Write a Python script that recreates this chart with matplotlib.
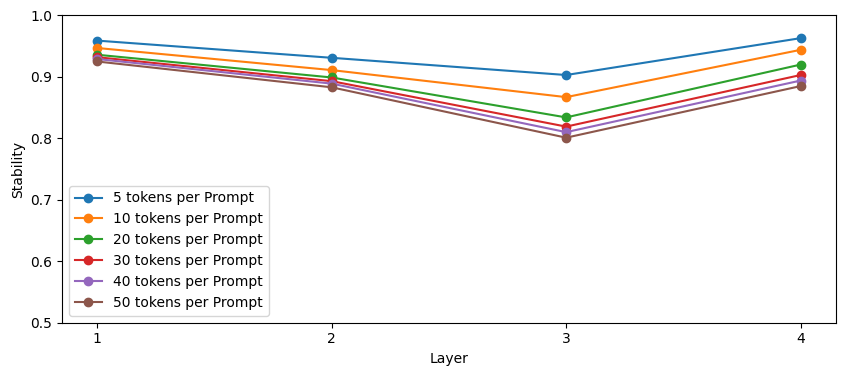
import matplotlib
matplotlib.use("Agg")
import matplotlib.pyplot as plt

layers = [1, 2, 3, 4]
tokens = [5, 10, 20, 30, 40, 50]
stab_5 = [0.959, 0.931, 0.903, 0.963]
stab_10 = [0.947, 0.911, 0.867, 0.944]
stab_20 = [0.936, 0.899, 0.834, 0.920]
stab_30 = [0.932, 0.893, 0.819, 0.903]
stab_40 = [0.929, 0.889, 0.810, 0.894]
stab_50 = [0.925, 0.883, 0.801, 0.885]
series = [stab_5, stab_10, stab_20, stab_30, stab_40, stab_50]

fig = plt.figure(figsize=(8.46, 3.76), dpi=100)
ax = fig.add_axes([0.0733, 0.142, 0.9147, 0.817])

for n, vals in zip(tokens, series):
    ax.plot(layers, vals, marker="o", label=f"{n} tokens per Prompt")

ax.set_ylim(0.5, 1.0)
ax.set_xticks(layers)
ax.set_xlabel("Layer")
ax.set_ylabel("Stability")
ax.legend(loc="lower left")

fig.savefig("out.png", dpi=100)
